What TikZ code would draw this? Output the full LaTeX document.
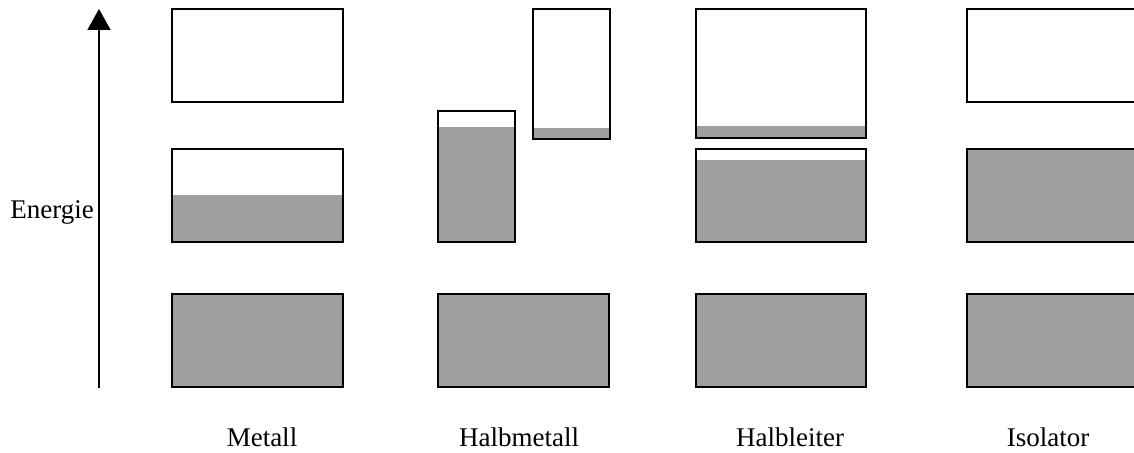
\documentclass[tikz,border=0pt]{standalone}
\usepackage{fontspec}
\setmainfont{Liberation Serif}
\usepackage{tikz}
\usetikzlibrary{arrows.meta, positioning}
\definecolor{bandgray}{RGB}{159, 159, 159}

\begin{document}
\begin{tikzpicture}[
    x=1pt, y=-1pt,
    band/.style={draw=black, line width=2pt},
    filled/.style={fill=bandgray},
    arrow/.style={-{Triangle[length=21pt, width=23pt]}, line width=1.8pt},
    label/.style={font=\fontsize{27}{32}\selectfont, inner sep=0pt}
]
    \useasboundingbox (0,0) rectangle (1134,452);

    % Energy axis
    \coordinate (eaxis-bot) at (99,388);
    \coordinate (eaxis-top) at (99,9);
    \draw[arrow] (eaxis-bot) -- (eaxis-top);
    \node[label, anchor=base east] (energie) at (94,218) {Energie};

    % Metall
    \fill[filled] (172,195) rectangle (343,242);
    \fill[filled] (172,294) rectangle (343,387);
    \draw[band] (172,9) rectangle (343,102);
    \draw[band] (172,149) rectangle (343,242);
    \draw[band] (172,294) rectangle (343,387);
    \node[label, anchor=base] (metall) at (262,446) {Metall};

    % Halbmetall
    \fill[filled] (438,127) rectangle (515,242);
    \fill[filled] (533,128) rectangle (610,139);
    \fill[filled] (438,294) rectangle (609,387);
    \draw[band] (438,111) rectangle (515,242);
    \draw[band] (533,9) rectangle (610,139);
    \draw[band] (438,294) rectangle (609,387);
    \node[label, anchor=base] (halbmetall) at (519,446) {Halbmetall};

    % Halbleiter
    \fill[filled] (696,126) rectangle (866,138);
    \fill[filled] (696,160) rectangle (866,242);
    \fill[filled] (696,294) rectangle (866,387);
    \draw[band] (696,9) rectangle (866,138);
    \draw[band] (696,149) rectangle (866,242);
    \draw[band] (696,294) rectangle (866,387);
    \node[label, anchor=base] (halbleiter) at (790,446) {Halbleiter};

    % Isolator (cut at the right edge)
    \begin{scope}
        \clip (0,0) rectangle (1134,452);
        \fill[filled] (967,149) rectangle (1138,242);
        \fill[filled] (967,294) rectangle (1138,387);
        \draw[band] (967,9) rectangle (1138,102);
        \draw[band] (967,149) rectangle (1138,242);
        \draw[band] (967,294) rectangle (1138,387);
    \end{scope}
    \node[label, anchor=base] (isolator) at (1048,446) {Isolator};

\end{tikzpicture}
\end{document}
